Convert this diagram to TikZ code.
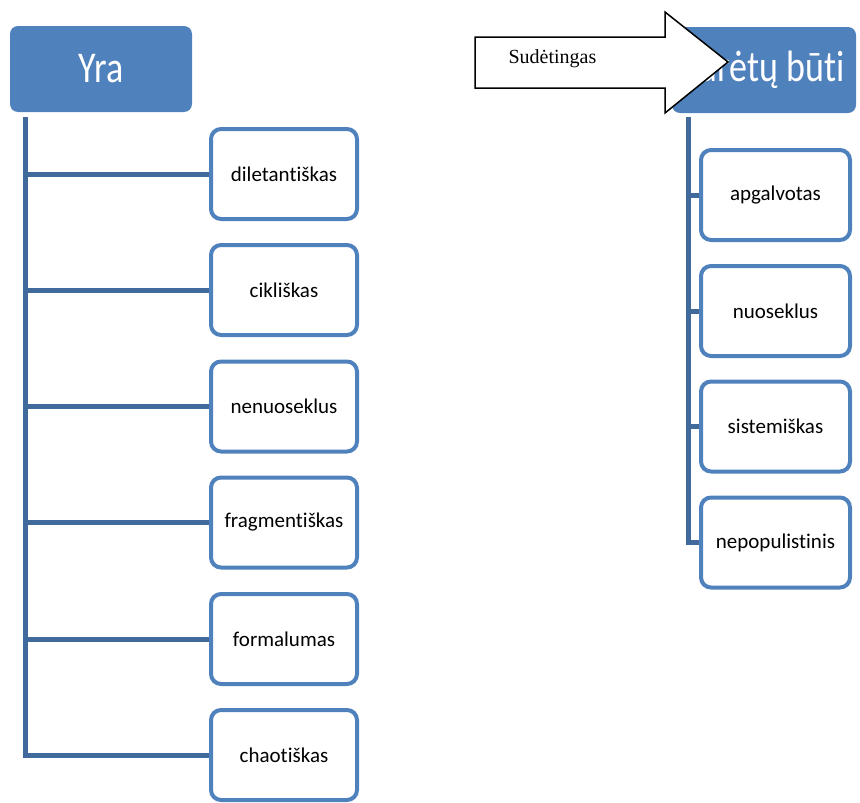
\documentclass[tikz,border=0pt]{standalone}
\usepackage{fontspec}
\setmainfont{Carlito}[Ligatures={NoCommon}]
\newfontfamily\serifface{Liberation Serif}
\definecolor{headblue}{HTML}{4F81BD}
\definecolor{linkblue}{HTML}{416A9C}
\newcommand{\tallhead}[1]{\scalebox{1}[1.22]{#1}}
\begin{document}
\begin{tikzpicture}[x=1pt,y=-1pt,
  header/.style={fill=headblue, rounded corners=8pt, minimum width=182pt,
    minimum height=86pt, text=white, font=\fontsize{36}{40}\selectfont, inner sep=0pt},
  item/.style={draw=headblue, line width=4pt, fill=white, rounded corners=10pt,
    minimum width=146pt, minimum height=90pt, inner sep=0pt,
    font=\fontsize{21}{24}\selectfont},
  link/.style={draw=linkblue, line width=5pt}]
\useasboundingbox (0,0) rectangle (860,803);

% left column
\node[header] (yra) at (101,69) {\tallhead{Yra}};
\node[item] (l1) at (284,174) {diletantiškas};
\node[item] (l2) at (284,290) {cikliškas};
\node[item] (l3) at (284,406.5) {nenuoseklus};
\node[item] (l4) at (284,522.5) {fragmentiškas};
\node[item] (l5) at (284,639) {formalumas};
\node[item] (l6) at (284,755) {chaotiškas};
\coordinate (ltop) at (25,117);
\draw[link] (ltop) |- (l6.west);
\foreach \n in {l1,l2,l3,l4,l5} \draw[link] (ltop |- \n.west) -- (\n.west);

% right column
\node[header, minimum width=184pt] (turi) at (764,70) {\tallhead{Turėtų būti}};
\node[item, minimum width=149pt] (r1) at (775.5,195) {apgalvotas};
\node[item, minimum width=149pt] (r2) at (775.5,311) {nuoseklus};
\node[item, minimum width=149pt] (r3) at (775.5,426.5) {sistemiškas};
\node[item, minimum width=149pt] (r4) at (775.5,542.5) {nepopulistinis};
\coordinate (rtop) at (688,117);
\draw[link] (rtop) |- (r4.west);
\foreach \n in {r1,r2,r3} \draw[link] (rtop |- \n.west) -- (\n.west);

% block arrow
\draw[fill=white, line width=1.5pt, line join=miter]
  (475,37) -- (665,37) -- (665,12) -- (728,62) -- (665,113) -- (665,88) -- (475,88) -- cycle;
\node[font=\serifface\fontsize{20}{22}\selectfont, anchor=west] (sud) at (505,59) {Sudėtingas};
\end{tikzpicture}
\end{document}
